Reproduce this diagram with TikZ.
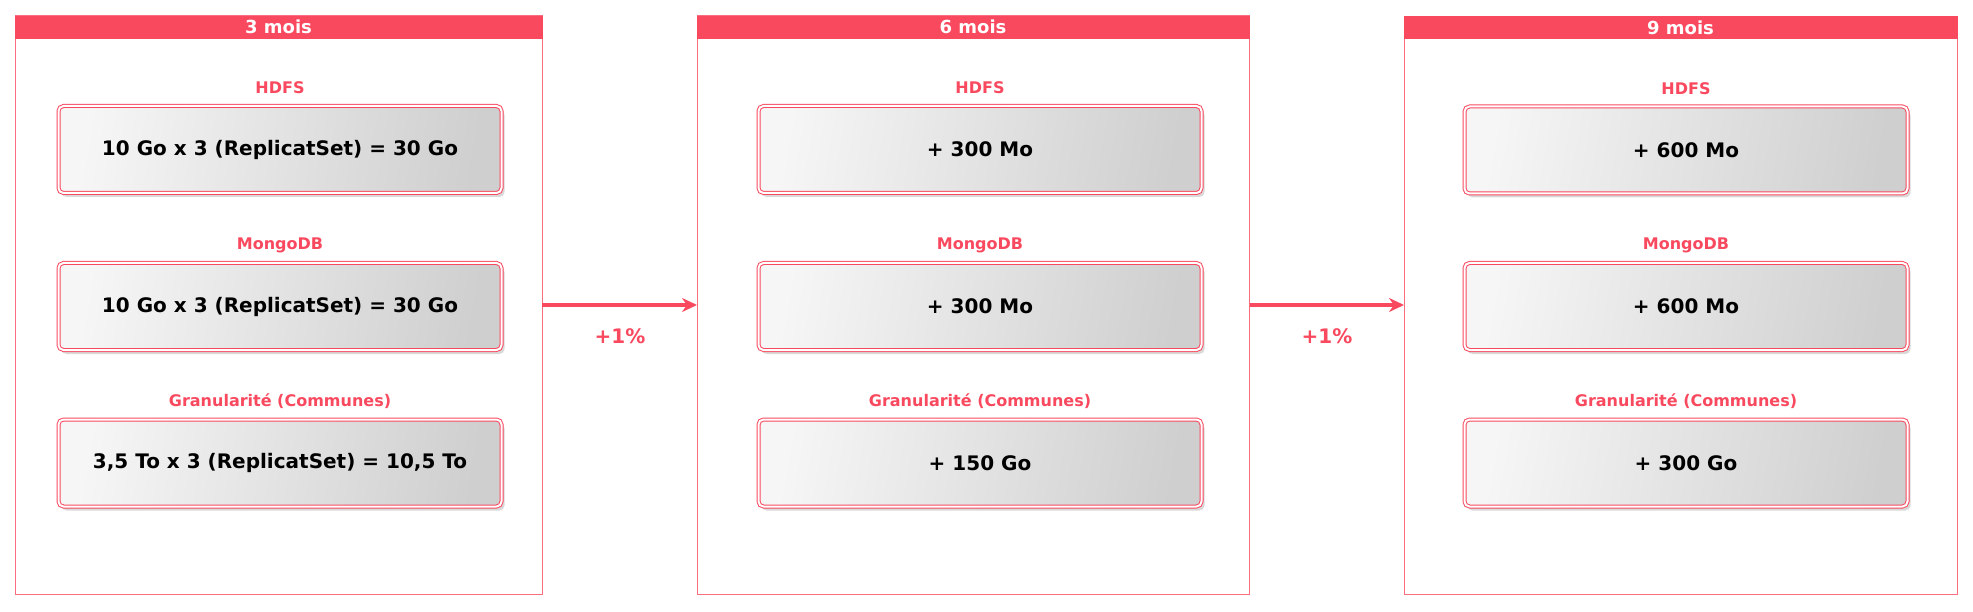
\documentclass[tikz,border=0pt]{standalone}
\usepackage{fontspec}
\setmainfont{DejaVu Sans}
\usetikzlibrary{arrows.meta,shadows,calc}
\definecolor{pred}{HTML}{F9495F}
\definecolor{gA}{HTML}{F6F6F6}
\definecolor{gB}{HTML}{CFCFCF}
\tikzset{
  container/.style={draw=pred!80, line width=1pt, inner sep=0pt, outer sep=0pt, minimum height=578pt},
  header/.style={fill=pred, draw=pred, line width=0.8pt, text=white, font=\fontsize{18}{18}\selectfont\bfseries, inner sep=0pt, outer sep=0pt, minimum height=22pt, anchor=north},
  valbox/.style={draw=pred, double=white, double distance=2pt, line width=1pt, rounded corners=5pt,
    left color=gA, right color=gB, shading angle=80,
    drop shadow={shadow xshift=3pt, shadow yshift=-4pt, opacity=0.3, fill=gray},
    minimum width=443pt, minimum height=87pt, inner sep=0pt,
    font=\fontsize{20}{20}\selectfont\bfseries},
  lbl/.style={text=pred, font=\fontsize{16}{16}\selectfont\bfseries, inner sep=0pt},
  pct/.style={text=pred, font=\fontsize{20}{20}\selectfont\bfseries, inner sep=0pt},
  flow/.style={draw=pred, line width=4pt, -{Stealth[length=15pt,width=14pt]}}
}
\begin{document}
\begin{tikzpicture}[x=1pt,y=-1pt]
\useasboundingbox (0,0) rectangle (1973,612);
% containers
\node[container, minimum width=527pt] (c1) at (278.5,305) {};
\node[container, minimum width=552pt] (c2) at (973,305) {};
\node[container, minimum width=553pt] (c3) at (1680.5,305.5) {};
\node[header, minimum width=527pt] (h1) at (c1.north) {3 mois};
\node[header, minimum width=552pt] (h2) at (c2.north) {6 mois};
\node[header, minimum width=553pt] (h3) at (c3.north) {9 mois};
% column 1
\node[lbl] (l11) at (280,88) {HDFS};
\node[valbox] (b11) at (280,149.5) {10 Go x 3 (ReplicatSet) = 30 Go};
\node[lbl] (l12) at (280,245) {MongoDB};
\node[valbox] (b12) at (280,306.5) {10 Go x 3 (ReplicatSet) = 30 Go};
\node[lbl] (l13) at (280,401) {Granularité (Communes)};
\node[valbox] (b13) at (280,463) {3,5 To x 3 (ReplicatSet) = 10,5 To};
% column 2
\node[lbl] (l21) at (980,88) {HDFS};
\node[valbox] (b21) at (980,149.5) {+ 300 Mo};
\node[lbl] (l22) at (980,245) {MongoDB};
\node[valbox] (b22) at (980,306.5) {+ 300 Mo};
\node[lbl] (l23) at (980,401) {Granularité (Communes)};
\node[valbox] (b23) at (980,463) {+ 150 Go};
% column 3
\node[lbl] (l31) at (1686,89) {HDFS};
\node[valbox] (b31) at (1686,150) {+ 600 Mo};
\node[lbl] (l32) at (1686,245) {MongoDB};
\node[valbox] (b32) at (1686,306.5) {+ 600 Mo};
\node[lbl] (l33) at (1686,401) {Granularité (Communes)};
\node[valbox] (b33) at (1686,463) {+ 300 Go};
% arrows
\coordinate (a1) at (542,305);
\coordinate (a2) at (1249.5,305);
\draw[flow] (a1) -- (c2.west |- a1);
\draw[flow] (a2) -- (c3.west |- a2);
\node[pct] (p1) at (620,336) {+1\%};
\node[pct] (p2) at (1327,336) {+1\%};
\end{tikzpicture}
\end{document}
